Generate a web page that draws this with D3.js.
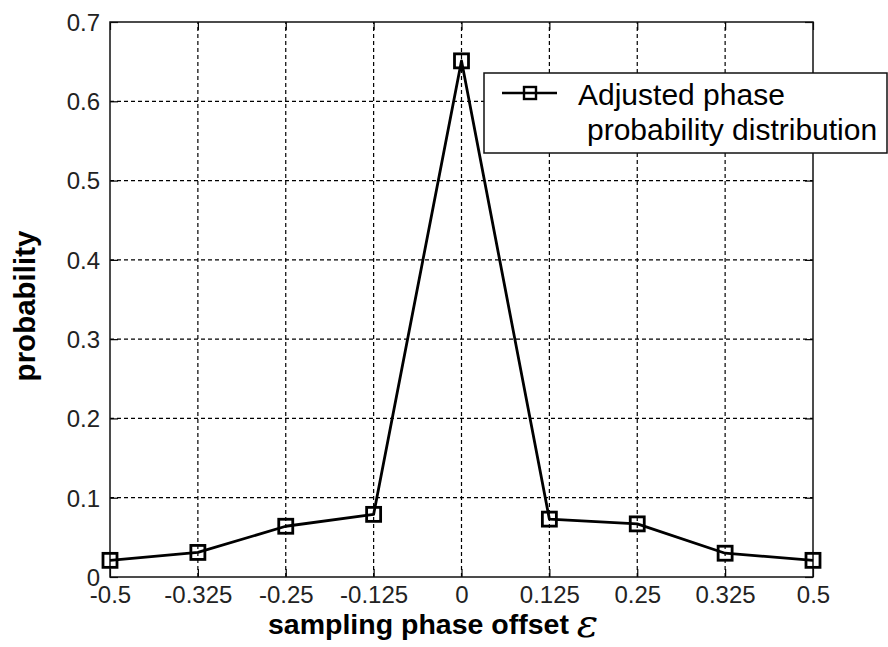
<!DOCTYPE html>
<html>
<head>
<meta charset="utf-8">
<script src="https://cdn.jsdelivr.net/npm/d3@7"></script>
<style>
  html, body { margin: 0; padding: 0; background: #fff; }
  svg { display: block; }
</style>
</head>
<body>
<svg id="chart" width="888" height="647"></svg>
<script>
// Sampling phase offsets (tick labels as printed on the axis)
const offsets = ["-0.5", "-0.325", "-0.25", "-0.125", "0", "0.125", "0.25", "0.325", "0.5"];
// Adjusted phase probability distribution
const probability = [0.021, 0.031, 0.064, 0.079, 0.651, 0.073, 0.067, 0.030, 0.021];
const yTicks = [0, 0.1, 0.2, 0.3, 0.4, 0.5, 0.6, 0.7];
const seriesName = ["Adjusted phase", "probability distribution"];

const svg = d3.select("#chart");
const margin = { left: 110, right: 75, top: 22, bottom: 70 };
const W = 888, H = 647;
const x = d3.scalePoint().domain(offsets).range([margin.left, W - margin.right]);
const y = d3.scaleLinear().domain([0, 0.7]).range([H - margin.bottom, margin.top]);
const x0 = margin.left, x1 = W - margin.right, yTop = margin.top, yBot = H - margin.bottom;
const tickFont = "'Liberation Sans', Arial, sans-serif";

svg.append("rect").attr("width", W).attr("height", H).attr("fill", "#fff");

// Dashed grid
const grid = svg.append("g").attr("stroke", "#000").attr("stroke-width", 1.2)
  .attr("stroke-dasharray", "4,3");
grid.selectAll(".gx").data(offsets.slice(1, -1)).join("line")
  .attr("x1", d => x(d)).attr("x2", d => x(d)).attr("y1", yBot).attr("y2", yTop);
grid.selectAll(".gy").data(yTicks.slice(1, -1)).join("line")
  .attr("y1", d => y(d)).attr("y2", d => y(d)).attr("x1", x0).attr("x2", x1);

// Axes with inward ticks on all four sides
const tickLen = 8;
const axB = svg.append("g").attr("transform", `translate(0,${yBot})`)
  .call(d3.axisBottom(x).tickSizeInner(-tickLen).tickSizeOuter(0).tickPadding(9));
const axT = svg.append("g").attr("transform", `translate(0,${yTop})`)
  .call(d3.axisTop(x).tickSizeInner(-tickLen).tickSizeOuter(0).tickFormat(""));
const axL = svg.append("g").attr("transform", `translate(${x0},0)`)
  .call(d3.axisLeft(y).tickValues(yTicks).tickFormat(d3.format("~g"))
    .tickSizeInner(-tickLen).tickSizeOuter(0).tickPadding(10));
const axR = svg.append("g").attr("transform", `translate(${x1},0)`)
  .call(d3.axisRight(y).tickValues(yTicks).tickSizeInner(-tickLen).tickSizeOuter(0).tickFormat(""));
[axB, axT, axL, axR].forEach(a => {
  a.select(".domain").remove();
  a.selectAll(".tick line").attr("stroke", "#000").attr("stroke-width", 1.2);
  a.selectAll(".tick text").attr("font-family", tickFont).attr("font-size", 24)
    .attr("fill", "#222");
});
axB.selectAll(".tick text").attr("dy", "0.71em");
axL.selectAll(".tick text").attr("dy", "0.35em");

// Frame
svg.append("rect").attr("x", x0).attr("y", yTop).attr("width", x1 - x0).attr("height", yBot - yTop)
  .attr("fill", "none").attr("stroke", "#111").attr("stroke-width", 1.5);

// Series line and square markers
const line = d3.line().x((d, i) => x(offsets[i])).y(d => y(d));
svg.append("path").datum(probability).attr("d", line)
  .attr("fill", "none").attr("stroke", "#000").attr("stroke-width", 2.8).attr("stroke-linejoin", "round");
const ms = 14;
svg.selectAll(".mk").data(probability).join("rect")
  .attr("x", (d, i) => x(offsets[i]) - ms / 2).attr("y", d => y(d) - ms / 2)
  .attr("width", ms).attr("height", ms)
  .attr("fill", "none").attr("stroke", "#000").attr("stroke-width", 2.8);

// Legend
const lg = svg.append("g");
lg.append("rect").attr("x", 484).attr("y", 73).attr("width", 403).attr("height", 80)
  .attr("fill", "#fff").attr("stroke", "#111").attr("stroke-width", 1.5);
lg.append("line").attr("x1", 502).attr("x2", 557).attr("y1", 93).attr("y2", 93)
  .attr("stroke", "#000").attr("stroke-width", 2.4);
lg.append("rect").attr("x", 524).attr("y", 87).attr("width", 12).attr("height", 12)
  .attr("fill", "none").attr("stroke", "#000").attr("stroke-width", 2.4);
lg.append("text").attr("x", 578).attr("y", 105).text(seriesName[0])
  .attr("font-family", tickFont).attr("font-size", 30).attr("fill", "#000");
lg.append("text").attr("x", 587).attr("y", 140).text(seriesName[1])
  .attr("font-family", tickFont).attr("font-size", 30).attr("fill", "#000");

// Axis titles
const xt = svg.append("text").attr("x", 268).attr("y", 634)
  .attr("font-family", tickFont).attr("font-size", 28.5).attr("font-weight", "bold").attr("fill", "#000");
xt.append("tspan").text("sampling phase offset ");
xt.append("tspan").attr("font-family", "'DejaVu Serif', serif").attr("font-style", "italic")
  .attr("font-weight", "normal").attr("font-size", 40).attr("dy", 3).text("ε");

svg.append("text").attr("transform", "translate(35,306) rotate(-90)")
  .attr("text-anchor", "middle")
  .attr("font-family", tickFont).attr("font-size", 29.5).attr("font-weight", "bold").attr("fill", "#000")
  .text("probability");
</script>
</body>
</html>
